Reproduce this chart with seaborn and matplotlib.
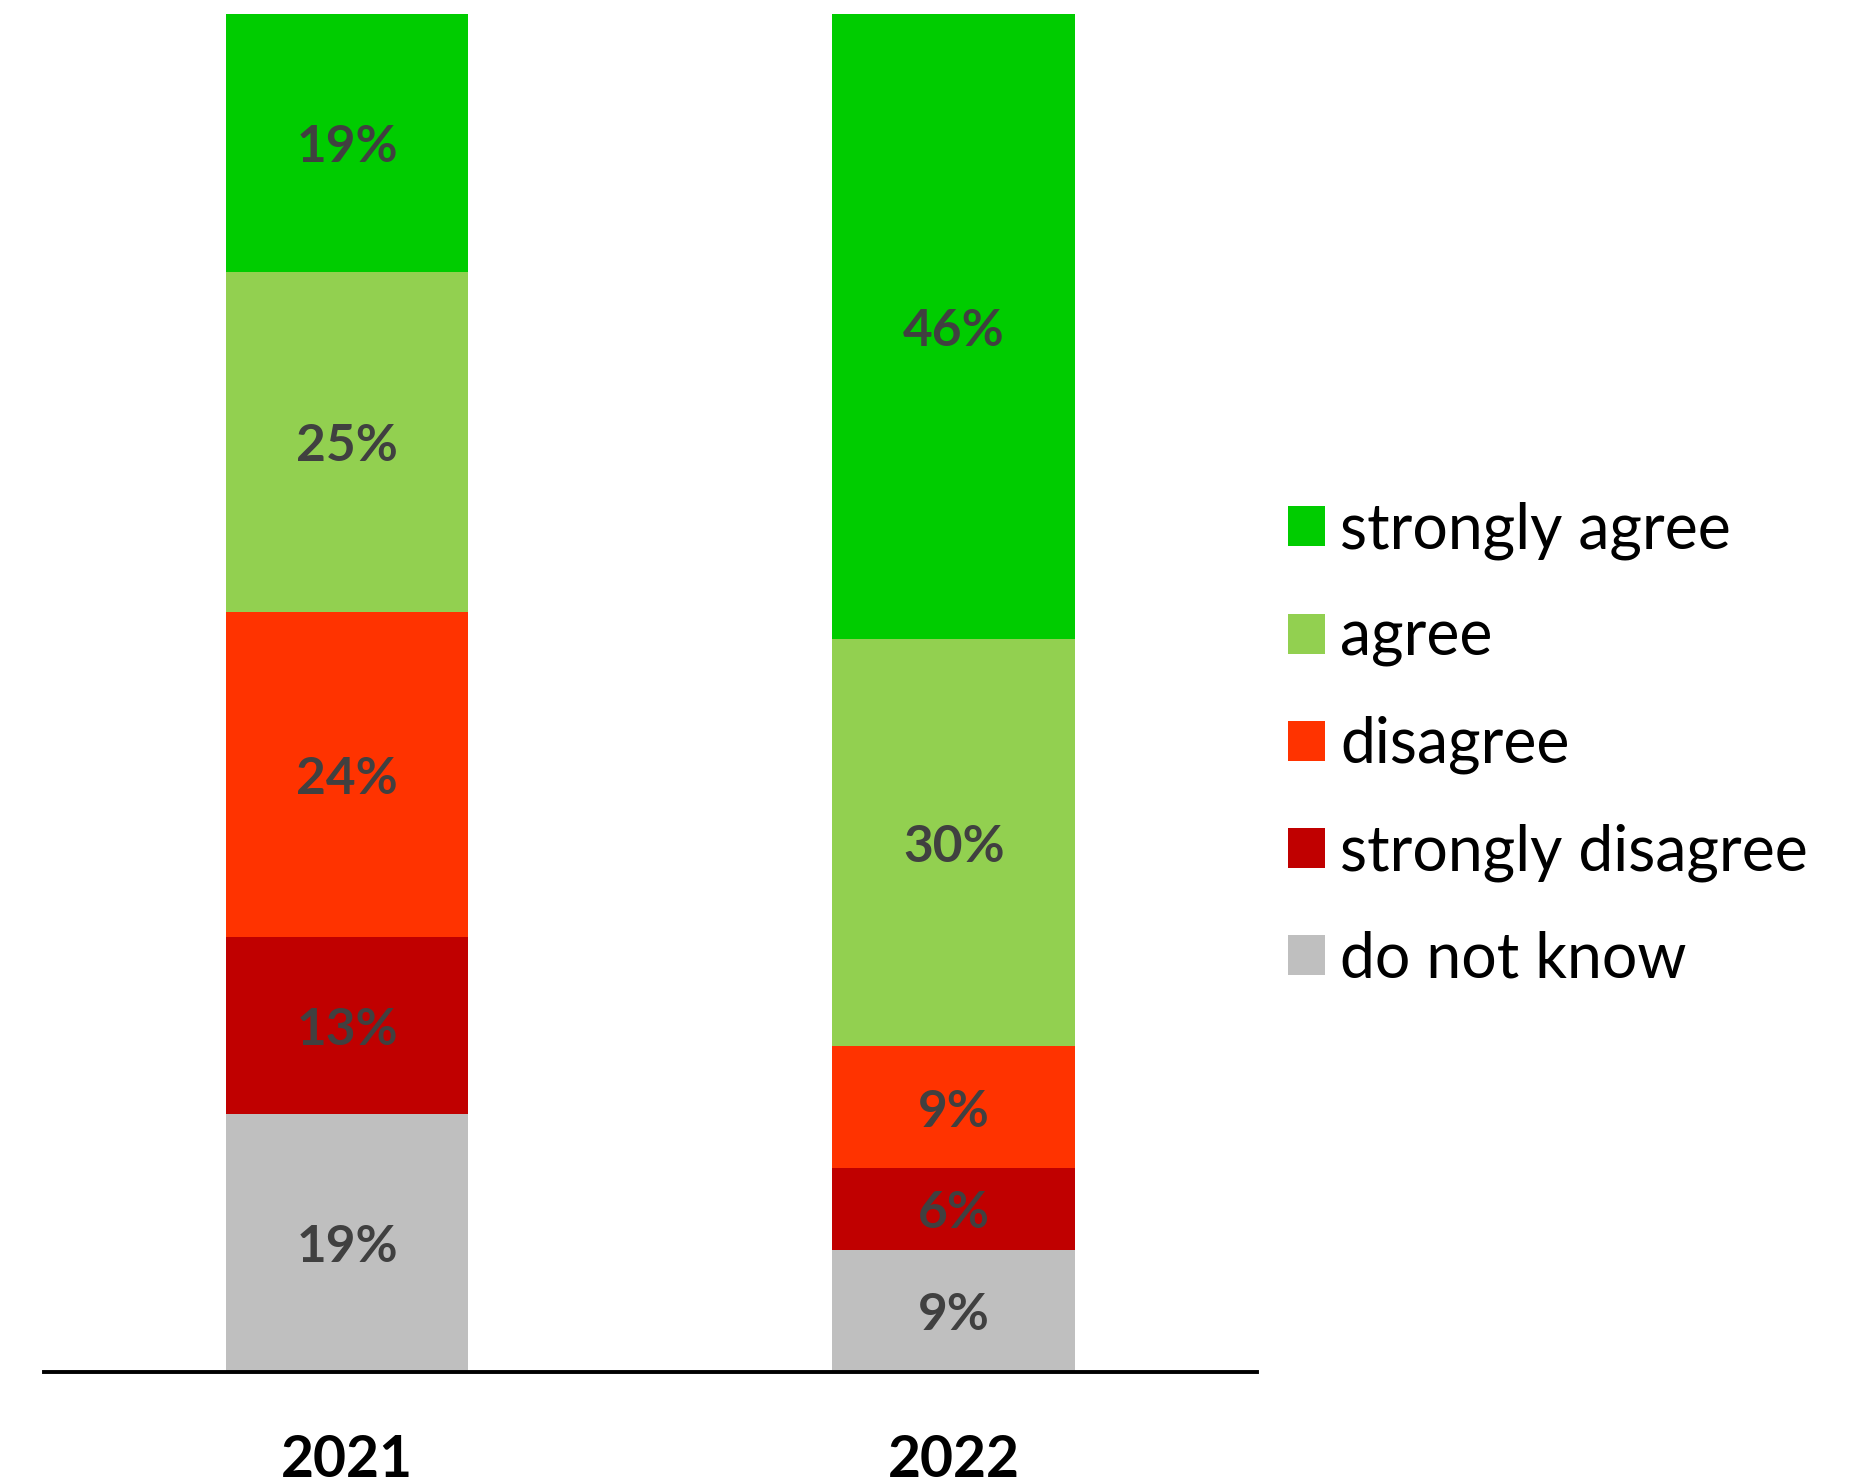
import matplotlib
matplotlib.use("Agg")
import matplotlib.pyplot as plt
from matplotlib.patches import Patch
import numpy as np
import pandas as pd
import seaborn as sns

years = ["2021", "2022"]
categories = ["do not know", "strongly disagree", "disagree", "agree", "strongly agree"]
do_not_know = [19, 9]
strongly_disagree = [13, 6]
disagree = [24, 9]
agree = [25, 30]
strongly_agree = [19, 46]

colors = {
    "strongly agree": "#00CC00",
    "agree": "#92D050",
    "disagree": "#FF3300",
    "strongly disagree": "#C00000",
    "do not know": "#BFBFBF",
}

sns.set_theme(style="white")
plt.rcParams["font.family"] = ["Lato", "DejaVu Sans"]
plt.rcParams["text.color"] = "black"

series = [do_not_know, strongly_disagree, disagree, agree, strongly_agree]
df = pd.DataFrame({"year": years})
for name, vals in zip(categories, series):
    df[name] = vals

fig = plt.figure(figsize=(18.69, 14.84), dpi=100)
ax = fig.add_axes([0.0235, 0.0755, 0.649, 0.915])

# stacked bars: draw cumulative totals from the top layer downwards
cum = df[categories].cumsum(axis=1)
for name in reversed(categories):
    sns.barplot(x=df["year"], y=cum[name], color=colors[name], width=0.4,
                saturation=1, ax=ax, linewidth=0)

# segment labels at the middle of each segment
for i in range(len(years)):
    base = 0
    for name in categories:
        v = df[name].iloc[i]
        ax.annotate(f"{v}%", xy=(i, base + v / 2), xytext=(0, -3.5),
                    textcoords="offset points", ha="center", va="center",
                    fontsize=37, fontweight="bold", color="#404040")
        base += v

ax.set_xlim(-0.5, 1.5)
ax.set_ylim(0, 100)
ax.set_xlabel("")
ax.set_ylabel("")
ax.set_yticks([])
for s in ["top", "right", "left"]:
    ax.spines[s].set_visible(False)
ax.spines["bottom"].set_linewidth(2.8)
ax.spines["bottom"].set_color("black")
ax.tick_params(axis="x", length=0, pad=45, labelsize=41, labelcolor="black")
for lbl in ax.get_xticklabels():
    lbl.set_fontweight("bold")

handles = [Patch(facecolor=colors[n], edgecolor="none", label=n)
           for n in reversed(categories)]
leg = fig.legend(handles=handles, loc="center left", bbox_to_anchor=(0.676, 0.498),
                 frameon=False, fontsize=45, handlelength=0.58, handleheight=0.61,
                 handletextpad=0.25, labelspacing=0.78, borderaxespad=0)
for t in leg.get_texts():
    t.set_color("black")

fig.savefig("out.png", dpi=100)
